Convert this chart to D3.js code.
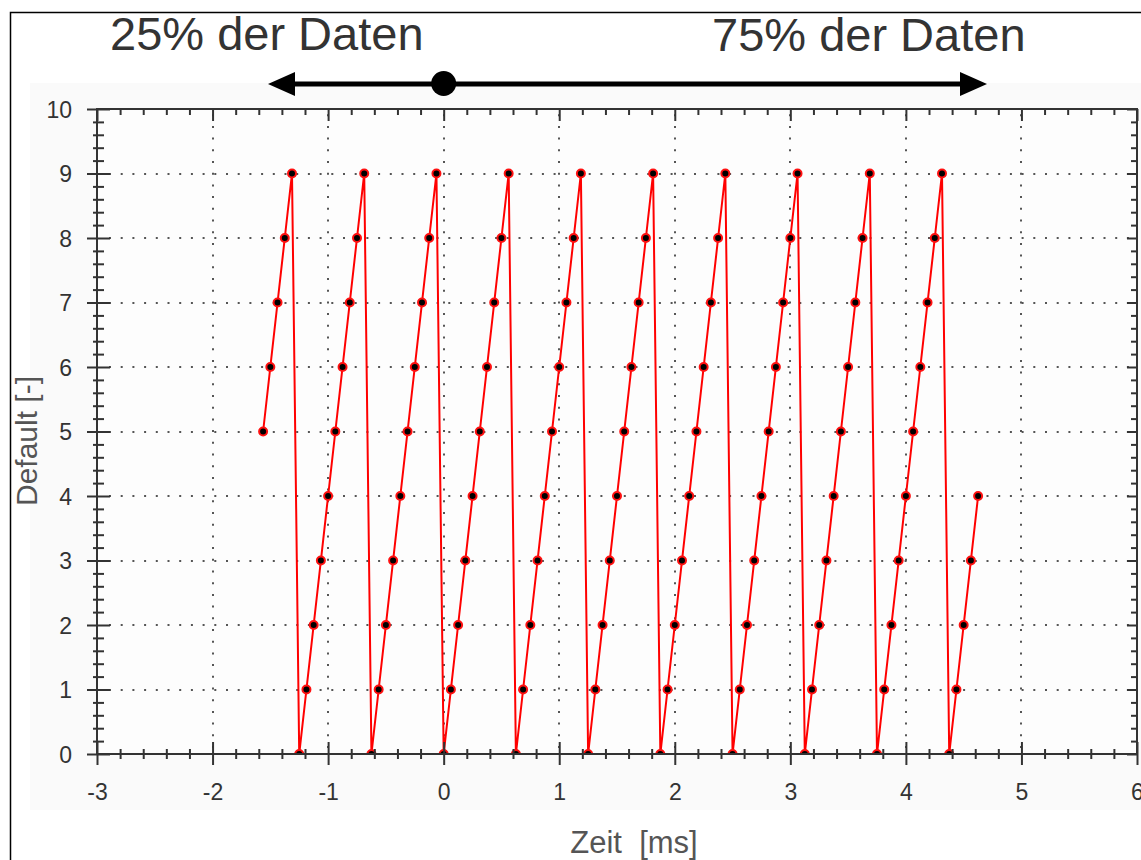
<!DOCTYPE html>
<html>
<head>
<meta charset="utf-8">
<script src="https://cdn.jsdelivr.net/npm/d3@7"></script>
<style>
  html, body { margin: 0; padding: 0; background: #ffffff; }
  svg { display: block; }
  text { font-family: "Liberation Sans", Arial, sans-serif; }
</style>
</head>
<body>
<svg id="chart" width="1141" height="860"></svg>
<script>
// ---- data ----
const timeMs = [
  -1.5625, -1.5, -1.4375, -1.375, -1.3125,
  -1.25, -1.1875, -1.125, -1.0625, -1.0, -0.9375, -0.875, -0.8125, -0.75, -0.6875,
  -0.625, -0.5625, -0.5, -0.4375, -0.375, -0.3125, -0.25, -0.1875, -0.125, -0.0625,
  0.0, 0.0625, 0.125, 0.1875, 0.25, 0.3125, 0.375, 0.4375, 0.5, 0.5625,
  0.625, 0.6875, 0.75, 0.8125, 0.875, 0.9375, 1.0, 1.0625, 1.125, 1.1875,
  1.25, 1.3125, 1.375, 1.4375, 1.5, 1.5625, 1.625, 1.6875, 1.75, 1.8125,
  1.875, 1.9375, 2.0, 2.0625, 2.125, 2.1875, 2.25, 2.3125, 2.375, 2.4375,
  2.5, 2.5625, 2.625, 2.6875, 2.75, 2.8125, 2.875, 2.9375, 3.0, 3.0625,
  3.125, 3.1875, 3.25, 3.3125, 3.375, 3.4375, 3.5, 3.5625, 3.625, 3.6875,
  3.75, 3.8125, 3.875, 3.9375, 4.0, 4.0625, 4.125, 4.1875, 4.25, 4.3125,
  4.375, 4.4375, 4.5, 4.5625, 4.625
];
const defaultVals = [
  5, 6, 7, 8, 9,
  0, 1, 2, 3, 4, 5, 6, 7, 8, 9,
  0, 1, 2, 3, 4, 5, 6, 7, 8, 9,
  0, 1, 2, 3, 4, 5, 6, 7, 8, 9,
  0, 1, 2, 3, 4, 5, 6, 7, 8, 9,
  0, 1, 2, 3, 4, 5, 6, 7, 8, 9,
  0, 1, 2, 3, 4, 5, 6, 7, 8, 9,
  0, 1, 2, 3, 4, 5, 6, 7, 8, 9,
  0, 1, 2, 3, 4, 5, 6, 7, 8, 9,
  0, 1, 2, 3, 4, 5, 6, 7, 8, 9,
  0, 1, 2, 3, 4
];
const xTicks = [-3, -2, -1, 0, 1, 2, 3, 4, 5, 6];
const yTicks = [0, 1, 2, 3, 4, 5, 6, 7, 8, 9, 10];
const xTitle = "Zeit\u00a0\u00a0[ms]";
const yTitle = "Default [-]";
const leftNote = "25% der Daten";
const rightNote = "75% der Daten";

// ---- layout ----
const svg = d3.select("#chart");
const L = 97, R = 1137, T = 109, B = 754;
const x = d3.scaleLinear().domain([-3, 6]).range([L, R]);
const y = d3.scaleLinear().domain([0, 10]).range([B, T]);
const xMinor = d3.range(-3, 6.001, 0.2).map(v => +v.toFixed(2)).filter(v => !xTicks.some(t => Math.abs(t - v) < 1e-6));
const yMinor = d3.range(0, 10.001, 0.2).map(v => +v.toFixed(2)).filter(v => !yTicks.some(t => Math.abs(t - v) < 1e-6));

// outer frame & panel
svg.append("rect").attr("x", 10.5).attr("y", 12.5).attr("width", 1200).attr("height", 900)
  .attr("fill", "#ffffff").attr("stroke", "#000").attr("stroke-width", 1.5);
svg.append("rect").attr("x", 30).attr("y", 83).attr("width", 1111).attr("height", 727)
  .attr("fill", "#fafafa");
svg.append("rect").attr("x", L).attr("y", T).attr("width", R - L).attr("height", B - T)
  .attr("fill", "#fdfdfd");

// grid
const grid = svg.append("g").attr("stroke", "#555").attr("stroke-width", 2).attr("stroke-dasharray", "2,9.7");
grid.selectAll("line.gx").data(xTicks.filter(t => t > -3 && t < 6)).join("line")
  .attr("class", "gx")
  .attr("x1", d => Math.round(x(d))).attr("x2", d => Math.round(x(d)))
  .attr("y1", B - 6).attr("y2", T + 2);
grid.selectAll("line.gy").data(yTicks.filter(t => t > 0 && t < 10)).join("line")
  .attr("class", "gy")
  .attr("x1", L + 12).attr("x2", R)
  .attr("y1", d => Math.round(y(d))).attr("y2", d => Math.round(y(d)));

// clip
svg.append("clipPath").attr("id", "plotclip").append("rect")
  .attr("x", L).attr("y", T - 6).attr("width", R - L).attr("height", B - T + 6);

const data = timeMs.map((t, i) => ({ t, v: defaultVals[i] }));
const plot = svg.append("g").attr("clip-path", "url(#plotclip)");
plot.append("path").datum(data)
  .attr("fill", "none").attr("stroke", "#ff0000").attr("stroke-width", 2)
  .attr("d", d3.line().x(d => x(d.t)).y(d => y(d.v)));
plot.selectAll("circle").data(data).join("circle")
  .attr("cx", d => x(d.t)).attr("cy", d => y(d.v)).attr("r", 4)
  .attr("fill", "#000").attr("stroke", "#ff1010").attr("stroke-width", 2);

// axes
function styleAxis(g) {
  g.select(".domain").remove();
  g.selectAll("line").attr("stroke", "#333").attr("stroke-width", 2);
  g.selectAll("text").remove();
}
// bottom: labels + outward major ticks
const bottom = svg.append("g").attr("transform", `translate(0,${B})`)
  .call(d3.axisBottom(x).tickValues(xTicks).tickSize(11).tickFormat(d3.format("d")));
bottom.select(".domain").remove();
bottom.selectAll("line").attr("stroke", "#333").attr("stroke-width", 2);
bottom.selectAll("text").attr("font-size", 23).attr("fill", "#333").attr("dy", null).attr("y", 46)
  .text(d => d < 0 ? "-" + Math.abs(d) : d);
svg.append("g").attr("transform", `translate(0,${B})`)
  .call(d3.axisTop(x).tickValues(xTicks).tickSize(12)).call(styleAxis);
svg.append("g").attr("transform", `translate(0,${B})`)
  .call(d3.axisBottom(x).tickValues(xMinor).tickSize(5)).call(styleAxis);
svg.append("g").attr("transform", `translate(0,${B})`)
  .call(d3.axisTop(x).tickValues(xMinor).tickSize(5)).call(styleAxis);
// top inward
svg.append("g").attr("transform", `translate(0,${T})`)
  .call(d3.axisBottom(x).tickValues(xTicks).tickSize(12)).call(styleAxis);
svg.append("g").attr("transform", `translate(0,${T})`)
  .call(d3.axisBottom(x).tickValues(xMinor).tickSize(6)).call(styleAxis);

// left: labels + crossing ticks
const left = svg.append("g").attr("transform", `translate(${L},0)`)
  .call(d3.axisLeft(y).tickValues(yTicks).tickSize(10).tickFormat(d3.format("d")));
left.select(".domain").remove();
left.selectAll("line").attr("stroke", "#333").attr("stroke-width", 2);
left.selectAll("text").attr("font-size", 23).attr("fill", "#333").attr("x", -25).attr("dy", "0.36em");
svg.append("g").attr("transform", `translate(${L},0)`)
  .call(d3.axisRight(y).tickValues(yTicks).tickSize(13)).call(styleAxis);
svg.append("g").attr("transform", `translate(${L},0)`)
  .call(d3.axisLeft(y).tickValues(yMinor).tickSize(4)).call(styleAxis);
svg.append("g").attr("transform", `translate(${L},0)`)
  .call(d3.axisRight(y).tickValues(yMinor).tickSize(7)).call(styleAxis);
// right inward
svg.append("g").attr("transform", `translate(${R},0)`)
  .call(d3.axisLeft(y).tickValues(yTicks).tickSize(10)).call(styleAxis);
svg.append("g").attr("transform", `translate(${R},0)`)
  .call(d3.axisLeft(y).tickValues(yMinor).tickSize(6)).call(styleAxis);

// frame lines
svg.append("rect").attr("x", L).attr("y", T).attr("width", R - L).attr("height", B - T)
  .attr("fill", "none").attr("stroke", "#333").attr("stroke-width", 2);

// titles
svg.append("text").attr("x", 634).attr("y", 853).attr("text-anchor", "middle")
  .attr("font-size", 31).attr("fill", "#555").text(xTitle);
svg.append("text").attr("transform", "translate(37,441) rotate(-90)").attr("text-anchor", "middle")
  .attr("font-size", 30).attr("fill", "#555").text(yTitle);

// annotations
svg.append("text").attr("x", 110).attr("y", 50).attr("font-size", 47).attr("fill", "#333").text(leftNote);
svg.append("text").attr("x", 712).attr("y", 51).attr("font-size", 47).attr("fill", "#333").text(rightNote);

const ay = 84;
svg.append("line").attr("x1", 290).attr("x2", 965).attr("y1", ay).attr("y2", ay)
  .attr("stroke", "#000").attr("stroke-width", 5);
svg.append("path").attr("d", `M268,${ay} L295,${ay - 12} L295,${ay + 12} Z`).attr("fill", "#000");
svg.append("path").attr("d", `M987,${ay} L960,${ay - 12} L960,${ay + 12} Z`).attr("fill", "#000");
svg.append("circle").attr("cx", x(0)).attr("cy", 83.5).attr("r", 12.5).attr("fill", "#000");
</script>
</body>
</html>
